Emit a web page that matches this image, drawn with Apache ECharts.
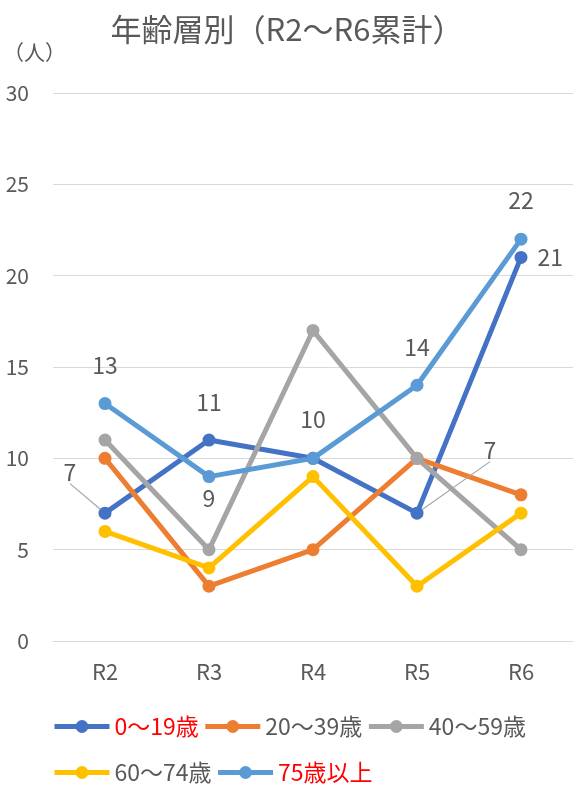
<!DOCTYPE html>
<html><head><meta charset="utf-8">
<script src="https://cdn.jsdelivr.net/npm/echarts@6/dist/echarts.min.js"></script>
<style>html,body{margin:0;padding:0;background:#fff}#c{width:576px;height:793px}</style>
</head><body><div id="c"></div>
<script>
const categories = ['R2','R3','R4','R5','R6'];
const seriesNames = ['0～19歳','20～39歳','40～59歳','60～74歳','75歳以上'];
const age0_19 = [7, 11, 10, 7, 21];
const age20_39 = [10, 3, 5, 10, 8];
const age40_59 = [11, 5, 17, 10, 5];
const age60_74 = [6, 4, 9, 3, 7];
const age75plus = [13, 9, 10, 14, 22];
const yTicks = [0, 5, 10, 15, 20, 25, 30];

const colors = ['#4472C4','#ED7D31','#A5A5A5','#FFC000','#5B9BD5'];
const FONT = '"Noto Sans CJK JP", "Noto Sans", sans-serif';
const labelColor = '#595959';

function mk(name, vals, color, labelPos, leaders) {
  return {
    name: name, type: 'line', data: vals.map((v, i) => {
      const d = { value: v };
      if (labelPos && labelPos[i]) {
        d.label = { show: true, position: labelPos[i][0], distance: labelPos[i][1] };
        d.labelLine = { show: !!(leaders && leaders[i]) };
      }
      return d;
    }),
    symbol: 'circle', symbolSize: 13,
    lineStyle: { width: 5, color: color },
    itemStyle: { color: color },
    label: { show: false, color: labelColor, fontSize: 23, fontFamily: FONT },
    labelLine: { show: false, lineStyle: { color: '#a6a6a6', width: 1.2 } },
    emphasis: { disabled: true }
  };
}

const s0 = mk(seriesNames[0], age0_19, colors[0],
  [['top',5],['top',20],['top',21],['top',5],['right',10]],
  [true, false, false, true, false]);
s0.labelLayout = function (p) {
  if (p.dataIndex === 0) return { dx: -35, dy: -18 };
  if (p.dataIndex === 3) return { dx: 73, dy: -40 };
  return {};
};
const s4 = mk(seriesNames[4], age75plus, colors[4],
  [['top',20],['bottom',4],null,['top',20],['top',21]]);

const legendCommon = {
  left: 52, padding: 0, itemWidth: 55, itemHeight: 16, itemGap: 4,
  lineStyle: { width: 5 },
  textStyle: { color: labelColor, fontSize: 23, width: 103, fontFamily: FONT }
};

const chart = echarts.init(document.getElementById('c'), null, { renderer: 'canvas' });
chart.setOption({
  animation: false,
  backgroundColor: '#fff',
  textStyle: { fontFamily: FONT },
  title: {
    text: '年齢層別（R2～R6累計）', left: 282, textAlign: 'center', top: 9,
    textStyle: { fontSize: 31, fontWeight: 'normal', color: '#595959', fontFamily: FONT }
  },
  graphic: [{
    type: 'text', left: 3, top: 42,
    style: { text: '（人）', fill: '#595959', font: '21px ' + FONT }
  }],
  grid: { left: 53, right: 3, top: 93, bottom: 152, containLabel: false },
  xAxis: {
    type: 'category', data: categories, boundaryGap: true,
    axisLine: { lineStyle: { color: '#d9d9d9', width: 1 } },
    axisTick: { show: false },
    axisLabel: { color: labelColor, fontSize: 22, margin: 20, fontFamily: FONT }
  },
  yAxis: {
    type: 'value', min: yTicks[0], max: yTicks[yTicks.length - 1], interval: 5,
    axisLine: { show: false }, axisTick: { show: false },
    splitLine: { lineStyle: { color: '#d9d9d9', width: 1 } },
    axisLabel: { color: labelColor, fontSize: 21, margin: 24, fontFamily: FONT }
  },
  legend: [Object.assign({
    data: [
      { name: seriesNames[0], textStyle: { color: '#FF0000' } },
      { name: seriesNames[1] },
      { name: seriesNames[2] }
    ],
    top: 715
  }, legendCommon), Object.assign({
    data: [
      { name: seriesNames[3] },
      { name: seriesNames[4], textStyle: { color: '#FF0000' } }
    ],
    top: 761
  }, legendCommon)],
  series: [
    s0,
    mk(seriesNames[1], age20_39, colors[1]),
    mk(seriesNames[2], age40_59, colors[2]),
    mk(seriesNames[3], age60_74, colors[3]),
    s4
  ]
});
</script></body></html>
